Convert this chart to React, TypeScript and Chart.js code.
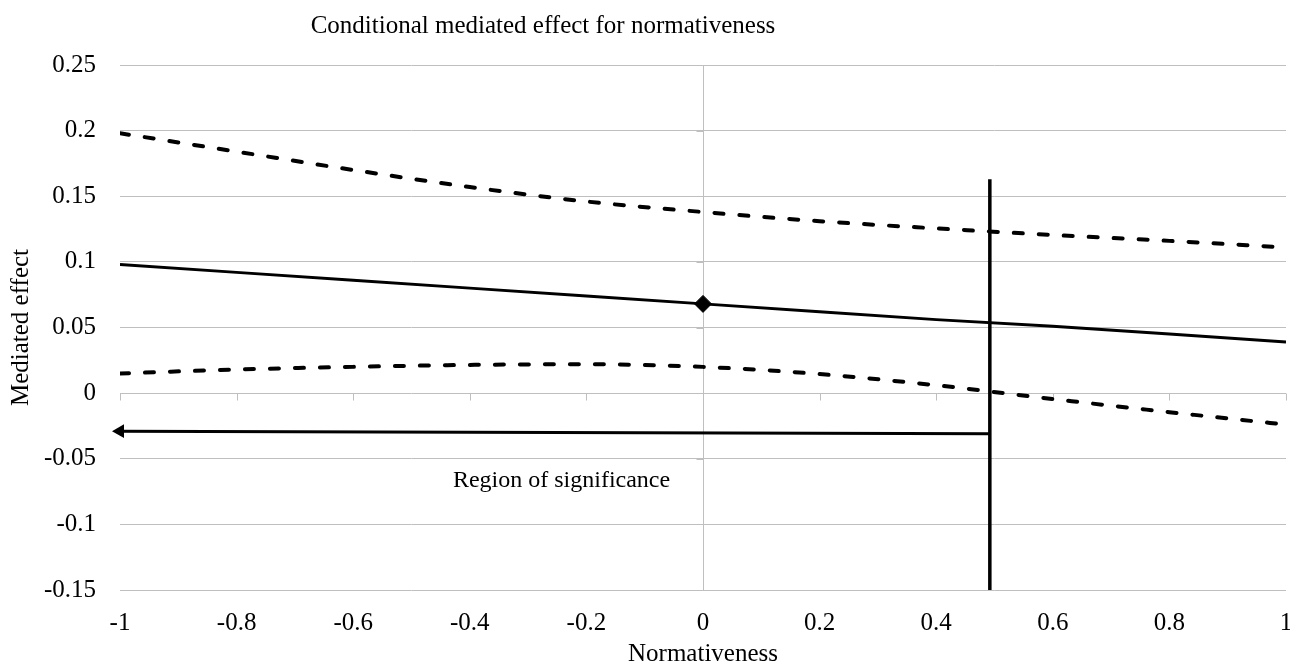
import React, { useEffect, useRef } from 'react';
import { Chart, registerables } from 'chart.js';

Chart.register(...registerables);

// ---- data ----
const xValues = [-1, -0.8, -0.6, -0.4, -0.2, 0, 0.2, 0.4, 0.6, 0.8, 1];
const effectValues = [0.098, 0.092, 0.086, 0.08, 0.074, 0.068, 0.062, 0.056, 0.051, 0.045, 0.039];
const upperCI = [0.198, 0.184, 0.17, 0.157, 0.146, 0.138, 0.131, 0.1255, 0.1205, 0.116, 0.111];
const lowerCI = [0.015, 0.018, 0.02, 0.0215, 0.022, 0.02, 0.0145, 0.006, -0.0045, -0.0145, -0.024];
const markerX = [0];
const markerY = [0.068];
const boundaryX = [0.492, 0.492];
const boundaryY = [0.163, -0.15];
const arrowX = [-1, 0.492];
const arrowY = [-0.029, -0.031];

const xTickValues = [-1, -0.8, -0.6, -0.4, -0.2, 0, 0.2, 0.4, 0.6, 0.8, 1];
const xTickLabels = ['-1', '-0.8', '-0.6', '-0.4', '-0.2', '0', '0.2', '0.4', '0.6', '0.8', '1'];
const yTickValues = [-0.15, -0.1, -0.05, 0, 0.05, 0.1, 0.15, 0.2, 0.25];
const yTickLabels = ['-0.15', '-0.1', '-0.05', '0', '0.05', '0.1', '0.15', '0.2', '0.25'];

const chartTitle = 'Conditional mediated effect for normativeness';
const xTitle = 'Normativeness';
const yTitle = 'Mediated effect';
const regionLabel = 'Region of significance';

const FAMILY = "'Liberation Serif', 'Times New Roman', serif";
const GRID = '#bfbfbf';
const FONT_SIZE = 25;

const pts = (xs: number[], ys: number[]) => xs.map((x, i) => ({ x, y: ys[i] }));

const decorPlugin = {
  id: 'decor',
  beforeDatasetsDraw(chart: any) {
    const { ctx, scales } = chart;
    const xs = scales.x;
    const ys = scales.y;
    const y0 = Math.round(ys.getPixelForValue(0)) + 0.5;
    const x0 = Math.round(xs.getPixelForValue(0)) + 0.5;
    ctx.save();
    ctx.strokeStyle = GRID;
    ctx.lineWidth = 1;
    ctx.beginPath();
    xTickValues.forEach((v) => {
      const px = Math.round(xs.getPixelForValue(v)) + 0.5;
      ctx.moveTo(px, y0);
      ctx.lineTo(px, y0 + 7);
    });
    yTickValues.forEach((v) => {
      const py = Math.round(ys.getPixelForValue(v)) + 0.5;
      ctx.moveTo(x0 - 7, py);
      ctx.lineTo(x0, py);
    });
    ctx.stroke();
    ctx.restore();
  },
  afterDraw(chart: any) {
    const { ctx, scales } = chart;
    ctx.save();
    ctx.fillStyle = '#000';
    ctx.font = `${FONT_SIZE}px ${FAMILY}`;
    ctx.textBaseline = 'alphabetic';
    ctx.textAlign = 'center';
    ctx.fillText(chartTitle, 543, 33);
    ctx.textAlign = 'left';
    ctx.font = `24px ${FAMILY}`;
    ctx.fillText(regionLabel, scales.x.getPixelForValue(-0.429), scales.y.getPixelForValue(-0.0715));
    ctx.restore();
  },
};

export default function App() {
  const ref = useRef<HTMLCanvasElement>(null);

  useEffect(() => {
    document.body.style.margin = '0';
    const canvas = ref.current!;
    const font = { family: FAMILY, size: FONT_SIZE };
    const chart = new Chart(canvas, {
      type: 'scatter',
      data: {
        datasets: [
          {
            data: pts(xValues, upperCI),
            showLine: true,
            borderColor: '#000',
            borderWidth: 4,
            borderDash: [9, 16],
            borderCapStyle: 'round',
            cubicInterpolationMode: 'monotone',
            pointRadius: 0,
          },
          {
            data: pts(xValues, lowerCI),
            showLine: true,
            borderColor: '#000',
            borderWidth: 4,
            borderDash: [9, 16],
            borderCapStyle: 'round',
            cubicInterpolationMode: 'monotone',
            pointRadius: 0,
          },
          {
            data: pts(xValues, effectValues),
            showLine: true,
            borderColor: '#000',
            borderWidth: 3,
            pointRadius: 0,
          },
          {
            data: pts(markerX, markerY),
            showLine: false,
            pointStyle: 'rectRot',
            pointRadius: 8.5,
            backgroundColor: '#000',
            borderColor: '#000',
            borderWidth: 1,
          },
          {
            data: pts(boundaryX, boundaryY),
            showLine: true,
            borderColor: '#000',
            borderWidth: 3.5,
            pointRadius: 0,
          },
          {
            data: pts(arrowX, arrowY),
            showLine: true,
            borderColor: '#000',
            backgroundColor: '#000',
            borderWidth: 3,
            pointStyle: 'triangle',
            pointRotation: -90,
            pointRadius: [8, 0],
            pointBorderWidth: 0,
            clip: false,
          },
        ],
      } as any,
      options: {
        animation: false,
        responsive: false,
        events: [],
        layout: { autoPadding: false, padding: { top: 65, right: 4, left: 0, bottom: 0 } },
        plugins: {
          legend: { display: false },
          tooltip: { enabled: false },
          title: { display: false },
        },
        scales: {
          x: {
            type: 'linear',
            min: -1,
            max: 1,
            afterBuildTicks: (s: any) => {
              s.ticks = xTickValues.map((v) => ({ value: v }));
            },
            afterFit: (s: any) => {
              s.height = 80;
              s.paddingLeft = 0;
              s.paddingRight = 0;
            },
            ticks: {
              callback: (_v: any, i: number) => xTickLabels[i],
              font,
              color: '#000',
              padding: 18,
              maxRotation: 0,
              autoSkip: false,
            },
            grid: {
              color: (c: any) => (c.tick && c.tick.value === 0 ? GRID : 'rgba(0,0,0,0)'),
              drawTicks: false,
              tickLength: 0,
              lineWidth: 1,
            },
            border: { display: false },
            title: {
              display: true,
              text: xTitle,
              font,
              color: '#000',
              padding: { top: 0, bottom: 1 },
            },
          },
          y: {
            type: 'linear',
            min: -0.15,
            max: 0.25,
            afterBuildTicks: (s: any) => {
              s.ticks = yTickValues.map((v) => ({ value: v }));
            },
            afterFit: (s: any) => {
              s.width = 120;
              s.paddingTop = 0;
              s.paddingBottom = 0;
            },
            ticks: {
              callback: (_v: any, i: number) => yTickLabels[i],
              font,
              color: '#000',
              padding: 24,
              autoSkip: false,
            },
            grid: {
              color: GRID,
              drawTicks: false,
              tickLength: 0,
              lineWidth: 1,
            },
            border: { display: false },
            title: {
              display: true,
              text: yTitle,
              font,
              color: '#000',
              padding: { top: 6, bottom: 0 },
            },
          },
        },
      } as any,
      plugins: [decorPlugin],
    });
    return () => chart.destroy();
  }, []);

  return (
    <div style={{ width: 1290, height: 670 }}>
      <canvas ref={ref} width={1290} height={670} style={{ display: 'block', width: 1290, height: 670 }} />
    </div>
  );
}
